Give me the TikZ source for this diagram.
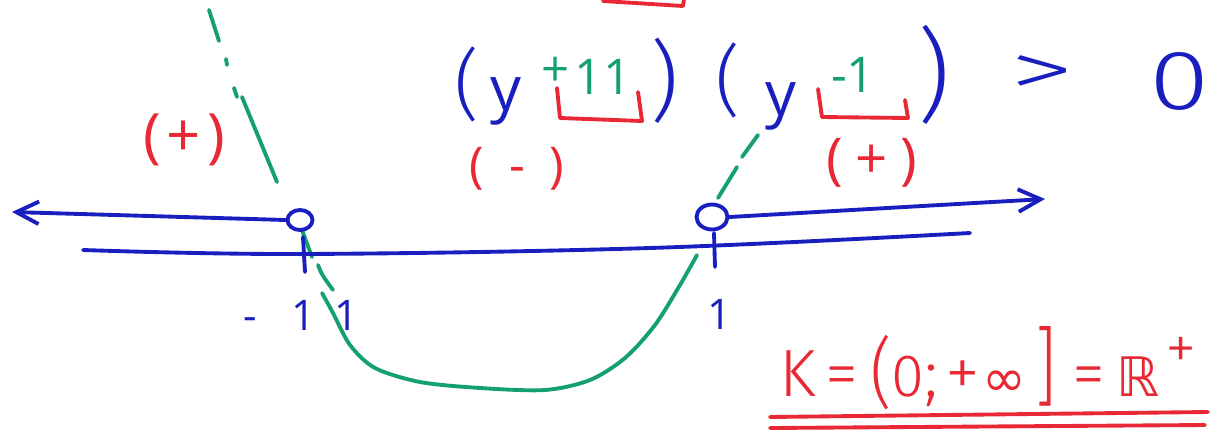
\documentclass[tikz,border=0pt]{standalone}
\usepackage{fontspec}
\setmainfont{Open Sans}
\newfontfamily\djv{DejaVu Sans}
\IfFontExistsTF{Fira Sans Light}{\newfontfamily\lightf{Fira Sans Light}}{%
  \IfFontExistsTF{FiraSans-Light.otf}{\newfontfamily\lightf{FiraSans-Light.otf}}{\newfontfamily\lightf{Open Sans}}}
\newcommand{\kslot}[2]{\makebox[#1pt][c]{#2}}
\usetikzlibrary{arrows.meta,shapes.geometric}
\definecolor{hblue}{RGB}{25,30,190}
\definecolor{hred}{RGB}{232,40,52}
\definecolor{hgreen}{RGB}{20,160,115}
\begin{document}
\begin{tikzpicture}[x=0.02cm,y=-0.02cm, line cap=round, line join=round,
  pen/.style={line width=2.2pt},
  bl/.style={pen,draw=hblue},
  rd/.style={pen,draw=hred},
  gr/.style={pen,draw=hgreen},
  lbl/.style={inner sep=0pt, outer sep=0pt},
  blt/.style={lbl,text=hblue},
  rdt/.style={lbl,text=hred},
  grt/.style={lbl,text=hgreen},
  fs/.style={font=\fontsize{#1}{#1}\selectfont},
  lf/.style={font=\lightf\fontsize{#1}{#1}\selectfont},
  hole/.style={bl, ellipse, inner sep=0pt, fill=white},
  barb/.style={-{Straight Barb[length=0.45cm,width=0.45cm]}}
]
\useasboundingbox (0,0) rectangle (1214,433);

% green sign curve (drawn first)
\draw[gr] (209,10) -- (219,41);
\draw[gr] (226,59) -- (227,65);
\draw[gr] (234,88) -- (237,97);
\draw[gr] (242,97) -- (277,182);
\draw[gr] (302,230) -- (312,257);
\draw[gr] (318,265) .. controls (322,275) .. (333,290);
\draw[gr] plot[smooth] coordinates {(322,293) (333,313) (350,345) (375,368) (420,382) (480,388) (545,390) (590,380) (625,358) (655,325) (680,285) (697,255)};
\draw[gr] (718,198) -- (737,167);
\draw[gr] (742,157) -- (758,135);

% inequality
\node[blt,lf=44] (lpA) at (467,84) {(};
\node[blt,fs=35] (yA) at (506,101) {y};
\node[grt,fs=28] (plusA) at (556,72) {+};
\node[grt,fs=28] (elevenA) at (603,77) {11};
\node[blt,lf=50] (rpA) at (665,81) {)};
\node[blt,lf=44] (lpB) at (728,80) {(};
\node[blt,fs=35] (yB) at (781,106) {y};
\node[grt,fs=28] (oneB) at (853,75) {-1};
\node[blt,lf=58] (rpB) at (934,75) {)};
\node[blt,lf=44] (gt) at (1042,76) {\scalebox{1.7}[1]{>}};
\node[blt,lf=48] (zero) at (1180,81) {\scalebox{1.3}[1]{0}};

% red brackets
\draw[rd] (603,1) -- (683,6) -- (684,-1);
\draw[rd] (557,88) -- (560,118) -- (642,121) -- (638,92);
\draw[rd] (818,89) -- (822,117) -- (908,118) -- (905,100);

% red signs
\node[rdt,fs=28] (sgA) at (517,169) {(\hspace{0.5em}-\hspace{0.5em})};
\node[rdt,fs=32] (sgB) at (872,163) {(\hspace{0.22em}+\hspace{0.22em})};
\node[rdt,fs=34] (sgL) at (184,140) {(\hspace{0.1em}+\hspace{0.1em})};

% axes
\coordinate (leftEnd) at (12,212);
\coordinate (rightEnd) at (1045,199);
\coordinate (axL) at (83,250);
\coordinate (axR) at (970,233);
\draw[bl] plot[smooth, tension=0.6] coordinates {(axL) (300,254) (650,248) (axR)};
\draw[bl] (303,237) -- (305,272);
\draw[bl] (714,233) -- (715,267);
\node[hole, minimum width=0.5cm, minimum height=0.4cm] (cA) at (300,220) {};
\node[hole, minimum width=0.62cm, minimum height=0.5cm] (cB) at (712,217) {};
\draw[bl, barb] (cA.west) -- (leftEnd);
\draw[bl, barb] (cB.east) -- (rightEnd);

% axis labels
\node[blt,fs=24] (lblA) at (301,315) {-\hspace{0.8em}1\hspace{0.45em}1};
\node[blt,fs=24] (lblB) at (720,314) {1};

% solution
\node[rdt, lf=38, anchor=base west] (K) at (776,396) {\kslot{24.9}{K}\kslot{25.5}{=}\kslot{18.7}{\raisebox{-2pt}{\scalebox{1}[1.15]{(}}}\kslot{12.5}{\fontsize{34}{34}\selectfont 0}\kslot{13.6}{;}\kslot{22.1}{\fontsize{40}{40}\selectfont +}\kslot{25.5}{\djv\fontsize{30}{30}\selectfont ∞}\kslot{21.5}{\scalebox{1}[1.3]{]}}\kslot{27.8}{=}\kslot{27.5}{\djv\fontsize{31}{31}\selectfont ℝ}\kslot{22.4}{\raisebox{15pt}{\fontsize{36}{36}\selectfont +}}};
\draw[rd] (770,417) -- (1208,412);
\draw[rd] (770,428) -- (1205,425);
\end{tikzpicture}
\end{document}
